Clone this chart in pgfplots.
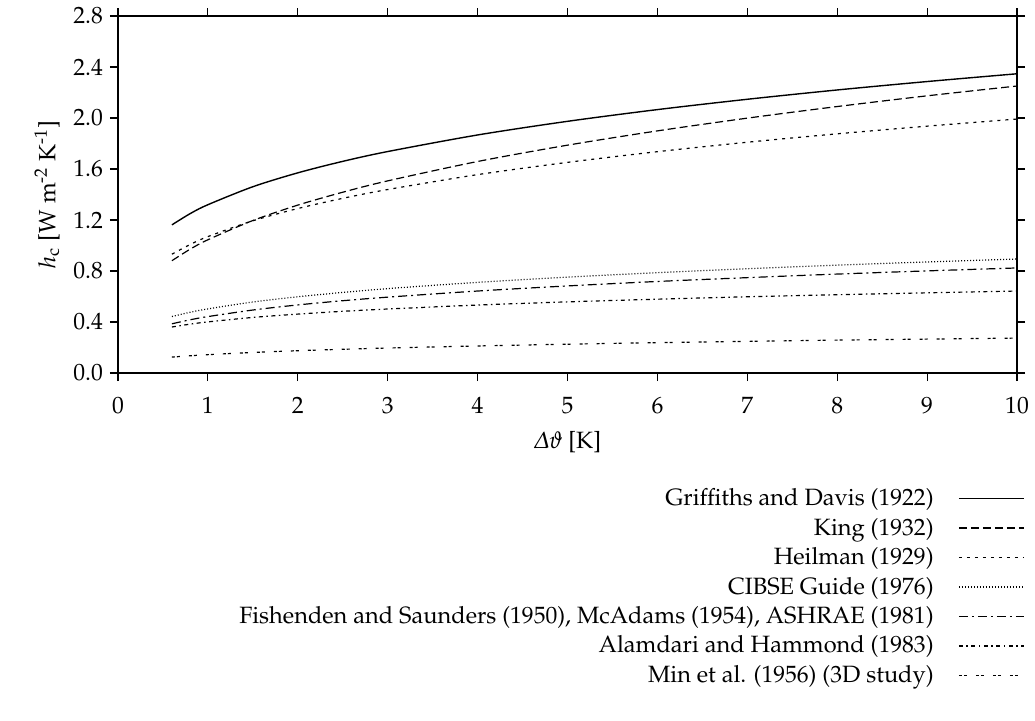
\documentclass[border=0pt]{standalone}
\usepackage[T1]{fontenc}
\usepackage[slantedGreek]{mathpazo}
\usepackage{pgfplots}
\pgfplotsset{compat=1.18}
\begin{document}
\begin{tikzpicture}
\useasboundingbox (-59pt,-173.5pt) rectangle (458.5pt,186.5pt);
\begin{axis}[
  at={(0,0)}, anchor=south west,
  width=449.5pt, height=178.5pt, scale only axis,
  xmin=0, xmax=10, ymin=0, ymax=2.8,
  xtick={0,1,...,10},
  ytick={0,0.4,0.8,1.2,1.6,2.0,2.4,2.8},
  yticklabel style={/pgf/number format/.cd, fixed, fixed zerofill, precision=1},
  xticklabel style={yshift=-4.5pt},
  /pgf/number format/assume math mode=true,
  tick align=outside, tick pos=both,
  major tick length=4pt,
  axis line style={line width=0.6pt},
  every tick/.style={line width=0.6pt, black},
  tick label style={font=\fontsize{11.8}{14}\selectfont},
  label style={font=\fontsize{11.8}{14}\selectfont},
  xlabel={$\Delta\vartheta$ [K]},
  xlabel style={yshift=-2pt},
  ylabel={$h_\mathrm{c}$ [W m\textsuperscript{-2} K\textsuperscript{-1}]},
  legend plot pos=right,
  legend cell align=right,
  legend style={at={(rel axis cs:1.016,-0.30)}, anchor=north east, draw=none, fill=none,
    font=\fontsize{11.8}{14}\selectfont, row sep=0.7pt},
  legend image code/.code={\path (0cm,0cm); \draw[#1] (0.36cm,0cm) -- (1.51cm,0cm);},
  every axis plot/.append style={line width=0.6pt, black, smooth, no markers},
  clip=false,
]
\addplot[solid, line width=0.7pt] coordinates {(0.6,1.162)(0.8,1.249)(1,1.32)(1.5,1.461)(2,1.570)(2.5,1.660)(3,1.737)(4,1.867)(5,1.974)(6,2.066)(7,2.147)(8,2.220)(9,2.286)(10,2.347)};
\addlegendentry{Griffiths and Davis (1922)}
\addplot[dash pattern=on 4pt off 2pt] coordinates {(0.6,0.881)(0.8,0.970)(1,1.045)(1.5,1.196)(2,1.317)(2.5,1.418)(3,1.507)(4,1.659)(5,1.787)(6,1.899)(7,1.999)(8,2.090)(9,2.174)(10,2.251)};
\addlegendentry{King (1932)}
\addplot[dash pattern=on 1.5pt off 2.5pt] coordinates {(0.6,0.932)(0.8,1.007)(1,1.07)(1.5,1.194)(2,1.290)(2.5,1.370)(3,1.439)(4,1.556)(5,1.652)(6,1.736)(7,1.810)(8,1.876)(9,1.936)(10,1.992)};
\addlegendentry{Heilman (1929)}
\addplot[dash pattern=on 0.5pt off 1pt] coordinates {(0.6,0.443)(0.8,0.476)(1,0.503)(1.5,0.557)(2,0.598)(2.5,0.632)(3,0.662)(4,0.711)(5,0.752)(6,0.787)(7,0.818)(8,0.846)(9,0.871)(10,0.894)};
\addlegendentry{CIBSE Guide (1976)}
\addplot[dash pattern=on 4.5pt off 2pt on 1pt off 2pt] coordinates {(0.6,0.386)(0.8,0.417)(1,0.4425)(1.5,0.494)(2,0.534)(2.5,0.567)(3,0.595)(4,0.643)(5,0.683)(6,0.718)(7,0.748)(8,0.776)(9,0.801)(10,0.824)};
\addlegendentry{Fishenden and Saunders (1950), McAdams (1954), ASHRAE (1981)}
\addplot[dash pattern=on 2pt off 1.75pt on 0.75pt off 1.75pt] coordinates {(0.6,0.361)(0.8,0.383)(1,0.401)(1.5,0.436)(2,0.462)(2.5,0.484)(3,0.502)(4,0.533)(5,0.558)(6,0.579)(7,0.598)(8,0.614)(9,0.629)(10,0.643)};
\addlegendentry{Alamdari and Hammond (1983)}
\addplot[dash pattern=on 1.5pt off 1pt on 1.5pt off 4.5pt] coordinates {(0.6,0.125)(0.8,0.135)(1,0.144)(1.5,0.161)(2,0.175)(2.5,0.186)(3,0.196)(4,0.212)(5,0.226)(6,0.238)(7,0.248)(8,0.258)(9,0.266)(10,0.274)};
\addlegendentry{Min et al. (1956) (3D study)}
\end{axis}
\end{tikzpicture}
\end{document}
